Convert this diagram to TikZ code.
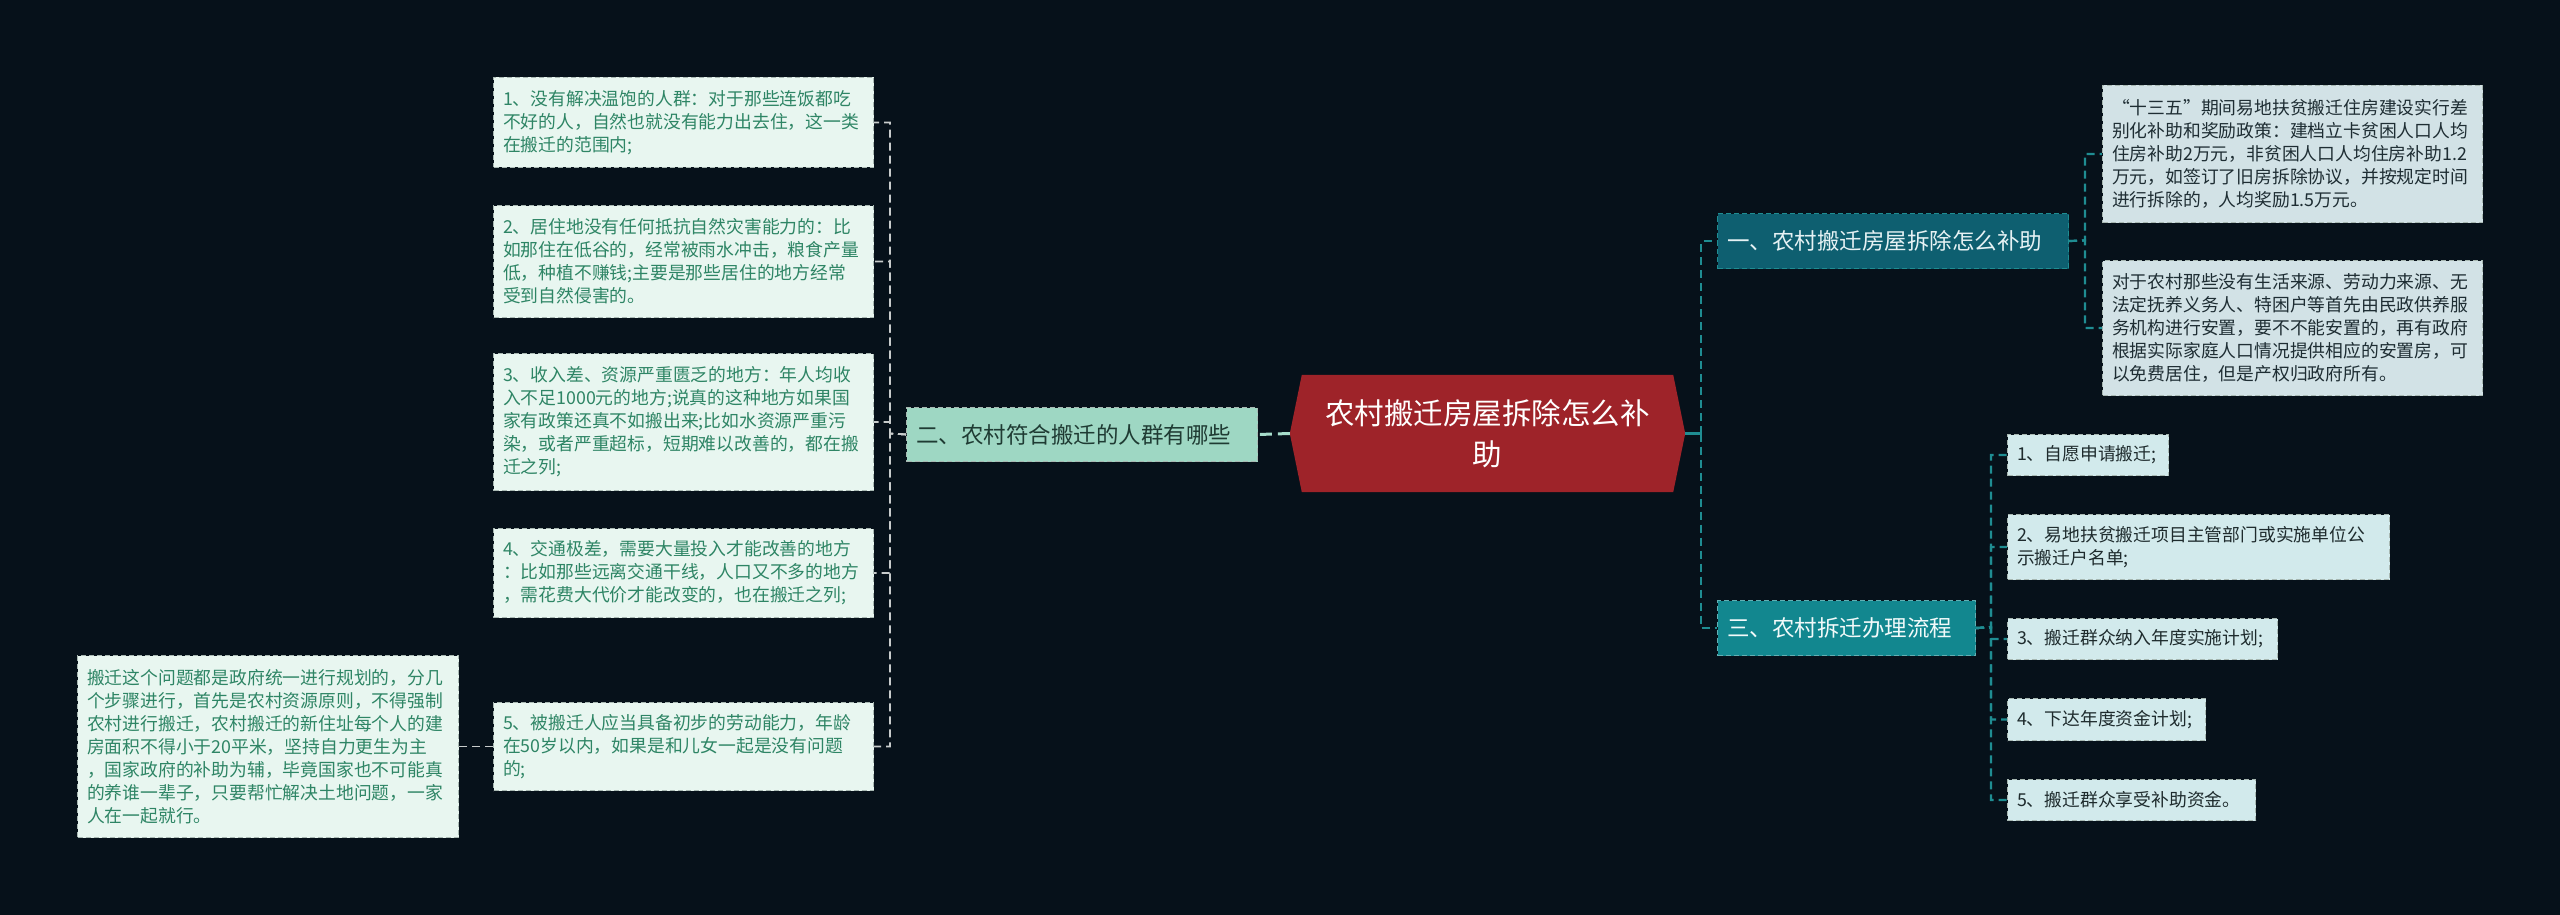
\documentclass[tikz,border=0pt]{standalone}
\usepackage{fontspec}
\setmainfont{Noto Sans CJK SC}
\usetikzlibrary{backgrounds}
\definecolor{bgc}{HTML}{06111A}
\definecolor{lfill}{HTML}{E8F6F0}
\definecolor{ltext}{HTML}{2E8565}
\definecolor{lborder}{HTML}{A8B8B2}
\definecolor{mint}{HTML}{9ED7C3}
\definecolor{ertext}{HTML}{1F3B33}
\definecolor{cred}{HTML}{9E2329}
\definecolor{onefill}{HTML}{0E5F70}
\definecolor{onetext}{HTML}{E6F2F4}
\definecolor{threefill}{HTML}{12878F}
\definecolor{threetext}{HTML}{F2FAFA}
\definecolor{rfill}{HTML}{D2E2E6}
\definecolor{rtext}{HTML}{1E2D33}
\definecolor{pfill}{HTML}{D2EAEC}
\definecolor{ptext}{HTML}{1E2B2D}
\definecolor{lconnc}{HTML}{C8CCCC}
\definecolor{rconnc}{HTML}{1F8D92}
\definecolor{cconnc}{HTML}{A6DDCB}
\newcommand{\leaffont}{\fontsize{17.8}{23}\selectfont}
\newcommand{\midfont}{\fontsize{22.5}{28}\selectfont}
\newcommand{\bigfont}{\fontsize{29.5}{41}\selectfont}
\tikzset{
  boxbase/.style={anchor=north west, align=left, inner xsep=9.5pt, inner ysep=0pt,
    line width=1pt, dash pattern=on 5pt off 3pt},
  leafL/.style={boxbase, draw=lborder, fill=lfill, text=ltext, font=\leaffont},
  leafR/.style={boxbase, draw=lborder, fill=rfill, text=rtext, font=\leaffont},
  leafP/.style={boxbase, draw=lborder, fill=pfill, text=ptext, font=\leaffont},
  branchE/.style={boxbase, draw=lborder, fill=mint, text=ertext, font=\midfont},
  branchO/.style={boxbase, draw=rconnc, fill=onefill, text=onetext, font=\midfont},
  branchT/.style={boxbase, draw=rconnc!70!white, fill=threefill, text=threetext, font=\midfont},
  lconn/.style={draw=lconnc, line width=1.6pt, dash pattern=on 8pt off 5pt},
  rconn/.style={draw=rconnc, line width=2.2pt, dash pattern=on 8pt off 5pt},
  cconn/.style={draw=cconnc, line width=3pt, dash pattern=on 12pt off 6pt},
  rsolid/.style={draw=rconnc, line width=2.6pt},
}
\begin{document}
\begin{tikzpicture}[x=1pt,y=-1pt]
\useasboundingbox (0,0) rectangle (2560,915);
\begin{pgfonlayer}{background}
\fill[bgc] (0,0) rectangle (2560,915);
\end{pgfonlayer}

% center
\node[text=white, font=\bigfont, align=center, minimum width=395pt, minimum height=117pt, inner sep=0pt] (c) at (1487.5,433.5) {农村搬迁房屋拆除怎么补\\助};
\begin{pgfonlayer}{background}
\fill[cred] (c.west) -- ([xshift=12pt]c.north west) -- ([xshift=-12pt]c.north east) -- (c.east) -- ([xshift=-12pt]c.south east) -- ([xshift=12pt]c.south west) -- cycle;
\end{pgfonlayer}

% left branch
\node[branchE, text width=332pt, minimum height=54pt] (er) at (906,407) {二、农村符合搬迁的人群有哪些};

\node[leafL, text width=361pt, minimum height=90pt] (L1) at (493,77) {1、没有解决温饱的人群：对于那些连饭都吃\\不好的人，自然也就没有能力出去住，这一类\\在搬迁的范围内;};
\node[leafL, text width=361pt, minimum height=112pt] (L2) at (493,205) {2、居住地没有任何抵抗自然灾害能力的：比\\如那住在低谷的，经常被雨水冲击，粮食产量\\低，种植不赚钱;主要是那些居住的地方经常\\受到自然侵害的。};
\node[leafL, text width=361pt, minimum height=137pt] (L3) at (493,353) {3、收入差、资源严重匮乏的地方：年人均收\\入不足1000元的地方;说真的这种地方如果国\\家有政策还真不如搬出来;比如水资源严重污\\染，或者严重超标，短期难以改善的，都在搬\\迁之列;};
\node[leafL, text width=361pt, minimum height=89pt] (L4) at (493,528) {4、交通极差，需要大量投入才能改善的地方\\：比如那些远离交通干线，人口又不多的地方\\，需花费大代价才能改变的，也在搬迁之列;};
\node[leafL, text width=361pt, minimum height=88pt] (L5) at (493,702) {5、被搬迁人应当具备初步的劳动能力，年龄\\在50岁以内，如果是和儿女一起是没有问题\\的;};
\node[leafL, text width=362pt, minimum height=182pt] (F) at (77,655) {搬迁这个问题都是政府统一进行规划的，分几\\个步骤进行，首先是农村资源原则，不得强制\\农村进行搬迁，农村搬迁的新住址每个人的建\\房面积不得小于20平米，坚持自力更生为主\\，国家政府的补助为辅，毕竟国家也不可能真\\的养谁一辈子，只要帮忙解决土地问题，一家\\人在一起就行。};

% right branches
\node[branchO, text width=332pt, minimum height=55pt] (one) at (1717,213) {一、农村搬迁房屋拆除怎么补助};
\node[branchT, text width=239pt, minimum height=55pt] (three) at (1717,600) {三、农村拆迁办理流程};

\node[leafR, text width=361pt, minimum height=137pt] (R1) at (2102,85) {“十三五”期间易地扶贫搬迁住房建设实行差\\别化补助和奖励政策：建档立卡贫困人口人均\\住房补助2万元，非贫困人口人均住房补助1.2\\万元，如签订了旧房拆除协议，并按规定时间\\进行拆除的，人均奖励1.5万元。};
\node[leafR, text width=361pt, minimum height=135pt] (R2) at (2102,260) {对于农村那些没有生活来源、劳动力来源、无\\法定抚养义务人、特困户等首先由民政供养服\\务机构进行安置，要不不能安置的，再有政府\\根据实际家庭人口情况提供相应的安置房，可\\以免费居住，但是产权归政府所有。};

\node[leafP, text width=142pt, minimum height=41pt] (P1) at (2007,434) {1、自愿申请搬迁;};
\node[leafP, text width=363pt, minimum height=65pt] (P2) at (2007,514) {2、易地扶贫搬迁项目主管部门或实施单位公\\示搬迁户名单;};
\node[leafP, text width=251pt, minimum height=41pt] (P3) at (2007,618) {3、搬迁群众纳入年度实施计划;};
\node[leafP, text width=179pt, minimum height=42pt] (P4) at (2007,698) {4、下达年度资金计划;};
\node[leafP, text width=229pt, minimum height=41pt] (P5) at (2007,779) {5、搬迁群众享受补助资金。};

% connectors
\coordinate (lb) at (890,433.5);
\draw[cconn] (c.west) -- (er.east);
\draw[lconn] (er.west) -- (lb) |- (L1.east);
\draw[lconn] (er.west) -- (lb) |- (L2.east);
\draw[lconn] (er.west) -- (lb) |- (L3.east);
\draw[lconn] (er.west) -- (lb) |- (L4.east);
\draw[lconn] (er.west) -- (lb) |- (L5.east);
\draw[lconn] (L5.west) -- (F.east);

\coordinate (rb) at (1701,433.5);
\draw[rsolid] (c.east) -- (rb);
\draw[rconn] (rb) |- (one.west);
\draw[rconn] (rb) |- (three.west);

\coordinate (ob) at (2085,240.5);
\draw[rconn] (one.east) -- (ob) |- (R1.west);
\draw[rconn] (one.east) -- (ob) |- (R2.west);

\coordinate (tb) at (1991,627.5);
\draw[rconn] (three.east) -- (tb) |- (P1.west);
\draw[rconn] (three.east) -- (tb) |- (P2.west);
\draw[rconn] (three.east) -- (tb) |- (P3.west);
\draw[rconn] (three.east) -- (tb) |- (P4.west);
\draw[rconn] (three.east) -- (tb) |- (P5.west);
\end{tikzpicture}
\end{document}
